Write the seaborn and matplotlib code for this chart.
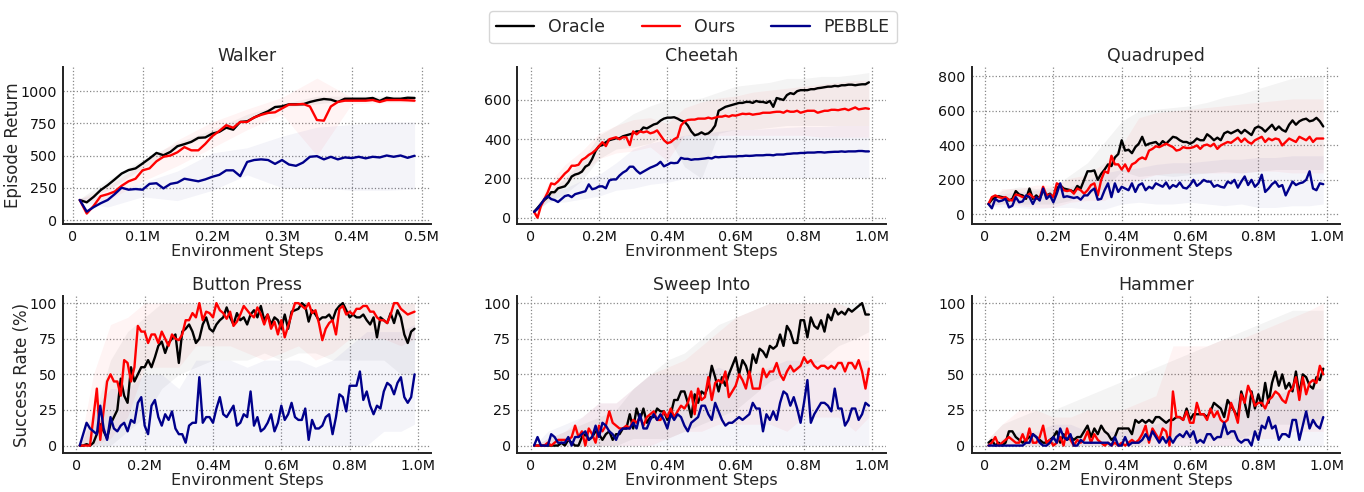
import matplotlib
matplotlib.use("Agg")
import matplotlib.pyplot as plt
import seaborn as sns
import numpy as np
from matplotlib.ticker import FuncFormatter, MultipleLocator, FixedLocator

# ---------------- data ----------------
STEPS_HALF = [10000 * i for i in range(1, 50)]
STEPS_FULL = [10000 * i for i in range(1, 100)]
BAND_X_HALF = [10000, 50000, 100000, 150000, 200000, 250000, 300000, 350000, 400000, 450000, 490000]
BAND_X_FULL = [10000, 50000, 100000, 150000, 200000, 250000, 300000, 350000, 400000, 450000, 500000,
               550000, 600000, 650000, 700000, 750000, 800000, 850000, 900000, 950000, 990000]

methods = ["Oracle", "Ours", "PEBBLE"]

# Walker
walker_oracle = [155, 137, 180, 232, 270, 314, 360, 387, 400, 438,
                 477, 520, 502, 528, 572, 588, 606, 637, 640, 670,
                 683, 716, 700, 760, 765, 794, 820, 843, 876, 881,
                 897, 897, 897, 915, 928, 938, 933, 915, 940, 940,
                 940, 940, 946, 923, 948, 940, 940, 948, 946]
walker_ours = [155, 50, 110, 185, 200, 220, 265, 300, 320, 385,
               400, 455, 490, 500, 525, 565, 540, 540, 590, 650,
               690, 735, 715, 760, 760, 795, 815, 830, 835, 865,
               895, 895, 900, 880, 775, 770, 880, 915, 925, 925,
               925, 925, 930, 915, 930, 930, 930, 928, 925]
walker_pebble = [155, 65, 100, 130, 155, 200, 250, 235, 240, 235,
                 280, 285, 245, 280, 290, 320, 310, 300, 315, 335,
                 350, 385, 385, 340, 450, 465, 470, 465, 435, 465,
                 430, 420, 445, 490, 495, 470, 490, 470, 485, 480,
                 490, 478, 490, 485, 500, 490, 500, 482, 498]
walker_oracle_lo = [150, 230, 400, 560, 660, 780, 870, 900, 930, 930, 935]
walker_oracle_hi = [165, 310, 470, 600, 700, 820, 900, 960, 960, 960, 960]
walker_ours_lo = [150, 150, 300, 420, 560, 700, 820, 500, 900, 910, 910]
walker_ours_hi = [165, 260, 440, 620, 760, 860, 950, 1100, 950, 950, 945]
walker_pebble_lo = [140, 100, 180, 150, 230, 350, 250, 250, 230, 230, 240]
walker_pebble_hi = [170, 200, 290, 380, 520, 560, 650, 720, 740, 760, 760]

# Cheetah
cheetah_oracle = [30, 50, 70, 90, 105, 130, 130, 150, 155, 160,
                  180, 210, 220, 225, 235, 260, 270, 300, 340, 365,
                  370, 385, 395, 400, 405, 405, 415, 420, 425, 430,
                  440, 440, 460, 455, 465, 475, 480, 495, 505, 510,
                  510, 512, 505, 495, 490, 470, 440, 420, 425, 435,
                  425, 430, 445, 470, 545, 555, 565, 570, 575, 580,
                  585, 585, 590, 590, 585, 595, 590, 590, 585, 595,
                  565, 610, 605, 600, 625, 635, 630, 645, 650, 650,
                  650, 655, 655, 660, 662, 665, 668, 668, 672, 670,
                  675, 675, 678, 678, 675, 678, 680, 680, 690]
cheetah_ours = [30, 0, 60, 95, 130, 175, 170, 185, 205, 225,
                240, 265, 265, 270, 295, 305, 320, 330, 345, 365,
                385, 365, 400, 405, 410, 400, 410, 410, 370, 440,
                425, 440, 435, 440, 430, 435, 445, 420, 395, 380,
                385, 400, 410, 470, 490, 498, 500, 500, 505, 505,
                505, 510, 505, 510, 515, 515, 520, 515, 522, 520,
                525, 530, 528, 530, 525, 528, 530, 535, 535, 535,
                538, 540, 540, 535, 545, 540, 540, 545, 535, 540,
                545, 545, 545, 535, 540, 545, 545, 550, 550, 548,
                552, 555, 548, 555, 562, 552, 555, 558, 555]
cheetah_pebble = [30, 45, 70, 95, 110, 95, 90, 80, 95, 110,
                  115, 105, 120, 125, 130, 135, 170, 145, 150, 160,
                  160, 150, 190, 195, 195, 215, 230, 240, 260, 260,
                  240, 225, 235, 245, 255, 262, 270, 285, 262, 270,
                  280, 278, 280, 305, 300, 300, 295, 298, 298, 300,
                  302, 305, 302, 310, 308, 310, 310, 312, 312, 312,
                  314, 314, 316, 315, 316, 318, 318, 318, 320, 320,
                  318, 322, 322, 322, 325, 326, 328, 328, 330, 330,
                  332, 332, 332, 334, 334, 332, 334, 335, 336, 336,
                  338, 336, 338, 338, 338, 340, 340, 338, 338]
cheetah_oracle_lo = [25, 80, 120, 190, 300, 350, 360, 380, 420, 260, 200, 430, 450, 450, 460, 470, 470, 470, 470, 470, 470]
cheetah_oracle_hi = [35, 130, 200, 290, 420, 470, 530, 570, 600, 600, 610, 640, 670, 680, 690, 710, 710, 720, 720, 730, 740]
cheetah_ours_lo = [25, 90, 170, 230, 300, 330, 340, 360, 290, 420, 420, 420, 420, 420, 420, 420, 420, 410, 410, 410, 410]
cheetah_ours_hi = [35, 170, 270, 340, 430, 470, 500, 510, 480, 560, 590, 610, 620, 640, 650, 660, 670, 680, 690, 700, 700]
cheetah_pebble_lo = [25, 80, 80, 95, 110, 140, 150, 170, 180, 200, 200, 205, 205, 205, 205, 205, 205, 205, 205, 205, 205]
cheetah_pebble_hi = [35, 130, 150, 190, 220, 280, 350, 380, 400, 420, 430, 440, 450, 450, 455, 460, 465, 465, 470, 470, 470]

# Quadruped
quad_oracle = [60, 85, 100, 105, 100, 95, 80, 90, 135, 115,
               110, 90, 150, 90, 110, 90, 140, 110, 120, 100,
               150, 170, 150, 145, 140, 130, 165, 150, 200, 250,
               250, 255, 200, 235, 260, 290, 280, 330, 350, 430,
               370, 375, 355, 390, 410, 450, 400, 410, 415, 420,
               400, 425, 410, 430, 450, 445, 430, 420, 420, 410,
               420, 440, 430, 430, 465, 450, 430, 445, 430, 470,
               480, 470, 480, 490, 470, 490, 475, 460, 500, 510,
               500, 480, 500, 520, 490, 510, 490, 480, 520, 545,
               520, 540, 550, 555, 540, 545, 560, 540, 510]
quad_ours = [60, 100, 110, 100, 95, 100, 85, 80, 115, 110,
             100, 100, 120, 100, 90, 95, 160, 110, 115, 100,
             180, 170, 140, 135, 140, 120, 150, 140, 120, 140,
             170, 180, 110, 200, 250, 240, 340, 290, 290, 260,
             290, 250, 290, 300, 320, 330, 320, 370, 380, 395,
             390, 400, 410, 400, 390, 370, 375, 390, 385, 385,
             390, 400, 380, 400, 405, 395, 410, 380, 400, 410,
             420, 415, 430, 445, 420, 440, 420, 410, 430, 440,
             450, 420, 440, 430, 440, 435, 400, 420, 440, 430,
             420, 450, 440, 430, 450, 420, 440, 440, 440]
quad_pebble = [60, 35, 90, 75, 80, 90, 40, 50, 100, 70,
               75, 110, 100, 60, 100, 80, 150, 90, 110, 70,
               120, 180, 100, 105, 100, 95, 100, 85, 110, 110,
               135, 150, 85, 90, 140, 180, 100, 180, 130, 160,
               150, 140, 180, 130, 170, 180, 140, 160, 150, 180,
               170, 160, 185, 150, 170, 160, 185, 155, 150, 170,
               200, 165, 180, 200, 190, 190, 160, 170, 160, 155,
               190, 180, 200, 155, 190, 220, 170, 200, 160, 180,
               230, 130, 150, 175, 190, 160, 170, 110, 150, 190,
               170, 180, 185, 200, 250, 150, 140, 180, 175]
quad_oracle_lo = [50, 60, 60, 60, 60, 80, 120, 150, 250, 220, 230, 220, 230, 240, 250, 240, 250, 260, 260, 260, 260]
quad_oracle_hi = [70, 140, 160, 150, 160, 230, 300, 420, 540, 600, 610, 620, 630, 650, 680, 700, 730, 760, 790, 800, 800]
quad_ours_lo = [50, 60, 50, 40, 40, 70, 80, 80, 150, 200, 230, 240, 240, 240, 240, 240, 250, 250, 240, 240, 240]
quad_ours_hi = [70, 150, 150, 170, 170, 210, 230, 300, 400, 560, 590, 600, 610, 620, 630, 640, 650, 660, 670, 670, 670]
quad_pebble_lo = [50, 40, 40, 30, 40, 40, 30, 30, 60, 70, 60, 60, 70, 60, 50, 60, 40, 40, 50, 50, 60]
quad_pebble_hi = [70, 120, 130, 140, 150, 160, 200, 240, 260, 270, 290, 300, 300, 310, 320, 320, 330, 330, 340, 340, 340]

# Button Press
button_oracle = [0, 0, 1, 0, 2, 8, 15, 10, 5, 15,
                 20, 25, 47, 35, 30, 55, 45, 50, 55, 55,
                 60, 55, 62, 70, 73, 65, 72, 75, 78, 58,
                 80, 82, 85, 80, 72, 75, 85, 90, 82, 80,
                 85, 88, 90, 97, 90, 85, 93, 88, 90, 85,
                 92, 95, 90, 98, 88, 92, 85, 90, 88, 82,
                 92, 82, 94, 95, 96, 100, 98, 87, 95, 92,
                 88, 90, 90, 92, 88, 95, 98, 100, 95, 90,
                 92, 90, 90, 92, 88, 85, 90, 76, 90, 88,
                 86, 93, 86, 95, 90, 78, 72, 80, 82]
button_ours = [0, 0, 0, 0, 20, 40, 4, 25, 45, 50,
               45, 45, 35, 60, 58, 45, 55, 84, 80, 80,
               72, 78, 78, 72, 80, 75, 70, 78, 75, 74,
               78, 88, 88, 93, 90, 100, 88, 94, 93, 90,
               100, 95, 93, 89, 94, 84, 87, 92, 98, 95,
               92, 90, 97, 92, 85, 92, 82, 87, 78, 88,
               76, 84, 92, 100, 100, 98, 96, 100, 93, 95,
               86, 74, 82, 86, 88, 78, 96, 98, 92, 94,
               92, 96, 96, 98, 98, 94, 94, 90, 88, 88,
               86, 92, 100, 100, 96, 94, 92, 93, 94]
button_pebble = [0, 8, 16, 12, 10, 8, 28, 12, 4, 20,
                 12, 10, 14, 16, 10, 18, 16, 30, 34, 14,
                 8, 28, 32, 20, 14, 22, 18, 24, 12, 8,
                 8, 2, 14, 16, 16, 48, 16, 20, 20, 16,
                 26, 34, 22, 20, 24, 28, 14, 16, 22, 20,
                 38, 14, 20, 10, 12, 16, 22, 10, 16, 28,
                 18, 22, 30, 20, 18, 18, 26, 4, 18, 12,
                 12, 14, 20, 22, 8, 20, 36, 34, 24, 42,
                 42, 42, 52, 32, 38, 28, 22, 28, 26, 38,
                 44, 42, 36, 44, 48, 34, 30, 34, 50]
button_oracle_lo = [0, 0, 0, 10, 20, 40, 50, 55, 60, 60, 60, 65, 60, 65, 65, 60, 60, 60, 60, 50, 50]
button_oracle_hi = [0, 20, 60, 80, 90, 100, 100, 100, 100, 100, 100, 100, 100, 100, 100, 100, 100, 100, 100, 100, 100]
button_ours_lo = [0, 0, 5, 20, 55, 55, 55, 70, 70, 70, 65, 60, 65, 70, 60, 65, 75, 75, 75, 70, 75]
button_ours_hi = [0, 50, 85, 90, 100, 100, 100, 100, 100, 100, 100, 100, 100, 100, 100, 100, 100, 100, 100, 100, 100]
button_pebble_lo = [0, 0, 0, 0, 0, 0, 0, 0, 0, 0, 0, 0, 0, 0, 0, 0, 0, 0, 10, 10, 15]
button_pebble_hi = [0, 25, 40, 40, 50, 50, 40, 60, 60, 60, 55, 60, 60, 60, 55, 60, 70, 80, 80, 80, 85]

# Sweep Into
sweep_oracle = [0, 0, 0, 0, 0, 0, 0, 0, 2, 0,
                4, 2, 0, 0, 6, 8, 4, 6, 10, 8,
                4, 8, 10, 4, 8, 8, 12, 12, 22, 12,
                26, 18, 26, 16, 20, 20, 26, 24, 24, 18,
                22, 32, 32, 38, 38, 30, 20, 36, 30, 38,
                36, 42, 56, 48, 38, 48, 42, 50, 56, 62,
                50, 60, 56, 48, 64, 58, 68, 66, 62, 70,
                68, 70, 78, 70, 84, 80, 72, 72, 88, 88,
                76, 90, 84, 82, 88, 80, 92, 88, 96, 92,
                94, 92, 96, 94, 96, 98, 100, 92, 92]
sweep_ours = [0, 0, 0, 0, 2, 0, 2, 4, 4, 4,
              4, 6, 14, 6, 10, 0, 12, 8, 2, 14,
              10, 14, 24, 16, 14, 12, 12, 14, 12, 18,
              16, 20, 14, 20, 22, 24, 18, 18, 24, 20,
              26, 20, 24, 28, 26, 30, 38, 22, 40, 32,
              34, 48, 32, 44, 46, 44, 52, 34, 38, 42,
              50, 46, 40, 52, 40, 40, 40, 54, 48, 52,
              52, 58, 50, 46, 52, 56, 52, 54, 56, 62,
              58, 60, 56, 54, 56, 56, 54, 56, 54, 58,
              58, 52, 58, 58, 54, 60, 52, 40, 54]
sweep_pebble = [0, 6, 0, 0, 0, 8, 6, 2, 2, 2,
                6, 0, 6, 6, 8, 10, 4, 6, 14, 6,
                16, 14, 10, 8, 4, 10, 12, 12, 12, 16,
                12, 22, 12, 12, 18, 22, 18, 22, 18, 12,
                22, 18, 22, 20, 14, 10, 16, 18, 20, 28,
                28, 22, 18, 30, 24, 18, 14, 16, 16, 18,
                20, 18, 20, 22, 30, 26, 26, 10, 22, 18,
                24, 18, 30, 38, 36, 28, 34, 26, 16, 30,
                46, 16, 22, 26, 30, 30, 28, 24, 40, 26,
                26, 14, 18, 26, 26, 18, 22, 30, 28]
sweep_oracle_lo = [0, 0, 0, 0, 0, 0, 5, 5, 5, 10, 15, 20, 25, 35, 45, 50, 55, 60, 70, 75, 80]
sweep_oracle_hi = [0, 5, 10, 15, 20, 25, 40, 50, 60, 65, 75, 85, 90, 95, 100, 100, 100, 100, 100, 100, 100]
sweep_ours_lo = [0, 0, 0, 0, 0, 0, 0, 0, 5, 10, 10, 15, 15, 15, 15, 10, 20, 20, 20, 10, 20]
sweep_ours_hi = [0, 5, 10, 20, 30, 30, 40, 50, 55, 60, 70, 80, 90, 95, 100, 100, 100, 100, 100, 95, 95]
sweep_pebble_lo = [0, 0, 0, 0, 0, 0, 0, 0, 0, 0, 0, 0, 0, 0, 0, 0, 0, 0, 0, 0, 0]
sweep_pebble_hi = [0, 10, 15, 20, 30, 30, 40, 50, 50, 50, 50, 55, 50, 50, 55, 60, 60, 60, 60, 60, 60]

# Hammer
hammer_oracle = [2, 4, 0, 2, 0, 2, 10, 10, 6, 4,
                 2, 4, 6, 8, 6, 4, 2, 2, 4, 6,
                 10, 2, 8, 4, 6, 4, 6, 6, 10, 14,
                 6, 12, 8, 14, 10, 8, 4, 6, 12, 12,
                 12, 12, 8, 18, 16, 18, 16, 18, 16, 20,
                 20, 18, 16, 18, 18, 20, 20, 18, 26, 18,
                 22, 22, 22, 22, 20, 24, 30, 28, 26, 20,
                 32, 28, 24, 20, 38, 30, 20, 38, 26, 36,
                 28, 44, 30, 44, 52, 42, 50, 40, 44, 38,
                 52, 36, 50, 48, 42, 40, 48, 46, 54]
hammer_ours = [0, 2, 6, 0, 2, 4, 6, 4, 2, 2,
               8, 2, 12, 2, 2, 6, 14, 2, 4, 0,
               2, 6, 0, 12, 4, 0, 4, 2, 4, 10,
               2, 8, 4, 2, 0, 2, 0, 2, 0, 2,
               0, 2, 4, 2, 4, 8, 14, 2, 12, 8,
               4, 12, 10, 0, 38, 20, 20, 18, 24, 16,
               16, 30, 22, 22, 18, 26, 20, 24, 18, 16,
               18, 30, 24, 16, 36, 30, 42, 36, 28, 30,
               30, 26, 32, 34, 38, 36, 32, 30, 38, 40,
               48, 32, 48, 36, 44, 46, 44, 56, 50]
hammer_pebble = [0, 0, 0, 0, 0, 0, 0, 0, 0, 0,
                 0, 2, 2, 8, 6, 2, 0, 0, 2, 6,
                 2, 12, 6, 4, 8, 0, 0, 4, 2, 2,
                 2, 2, 2, 2, 2, 2, 0, 6, 0, 0,
                 6, 0, 2, 2, 2, 4, 8, 4, 10, 6,
                 2, 6, 2, 6, 2, 6, 8, 6, 10, 6,
                 10, 2, 4, 2, 8, 8, 4, 6, 6, 16,
                 8, 10, 10, 4, 2, 4, 4, 0, 10, 4,
                 14, 12, 20, 12, 14, 4, 8, 8, 6, 18,
                 18, 4, 14, 24, 12, 18, 14, 12, 20]
hammer_oracle_lo = [0, 0, 0, 0, 0, 0, 0, 0, 0, 0, 5, 5, 5, 5, 5, 5, 10, 15, 15, 15, 20]
hammer_oracle_hi = [5, 15, 20, 25, 25, 30, 35, 40, 45, 50, 55, 60, 65, 70, 75, 80, 85, 90, 95, 95, 95]
hammer_ours_lo = [0, 0, 0, 0, 0, 0, 0, 0, 0, 0, 0, 0, 0, 0, 0, 0, 5, 5, 10, 10, 10]
hammer_ours_hi = [5, 15, 25, 25, 20, 20, 25, 25, 25, 30, 35, 70, 70, 70, 75, 75, 80, 85, 90, 95, 100]
hammer_pebble_lo = [0, 0, 0, 0, 0, 0, 0, 0, 0, 0, 0, 0, 0, 0, 0, 0, 0, 0, 0, 0, 0]
hammer_pebble_hi = [0, 5, 10, 10, 15, 15, 10, 10, 10, 15, 15, 20, 20, 25, 30, 35, 35, 35, 40, 40, 40]

panels = [
    ("Walker", STEPS_HALF, BAND_X_HALF,
     [walker_oracle, walker_ours, walker_pebble],
     [(walker_oracle_lo, walker_oracle_hi), (walker_ours_lo, walker_ours_hi), (walker_pebble_lo, walker_pebble_hi)],
     [0, 250, 500, 750, 1000], (-31, 1186), 100000, "Episode Return"),
    ("Cheetah", STEPS_FULL, BAND_X_FULL,
     [cheetah_oracle, cheetah_ours, cheetah_pebble],
     [(cheetah_oracle_lo, cheetah_oracle_hi), (cheetah_ours_lo, cheetah_ours_hi), (cheetah_pebble_lo, cheetah_pebble_hi)],
     [0, 200, 400, 600], (-32, 768), 200000, None),
    ("Quadruped", STEPS_FULL, BAND_X_FULL,
     [quad_oracle, quad_ours, quad_pebble],
     [(quad_oracle_lo, quad_oracle_hi), (quad_ours_lo, quad_ours_hi), (quad_pebble_lo, quad_pebble_hi)],
     [0, 200, 400, 600, 800], (-56, 855), 200000, None),
    ("Button Press", STEPS_FULL, BAND_X_FULL,
     [button_oracle, button_ours, button_pebble],
     [(button_oracle_lo, button_oracle_hi), (button_ours_lo, button_ours_hi), (button_pebble_lo, button_pebble_hi)],
     [0, 25, 50, 75, 100], (-5.2, 105), 200000, "Success Rate (%)"),
    ("Sweep Into", STEPS_FULL, BAND_X_FULL,
     [sweep_oracle, sweep_ours, sweep_pebble],
     [(sweep_oracle_lo, sweep_oracle_hi), (sweep_ours_lo, sweep_ours_hi), (sweep_pebble_lo, sweep_pebble_hi)],
     [0, 25, 50, 75, 100], (-5.2, 105), 200000, None),
    ("Hammer", STEPS_FULL, BAND_X_FULL,
     [hammer_oracle, hammer_ours, hammer_pebble],
     [(hammer_oracle_lo, hammer_oracle_hi), (hammer_ours_lo, hammer_ours_hi), (hammer_pebble_lo, hammer_pebble_hi)],
     [0, 25, 50, 75, 100], (-5.2, 105), 200000, None),
]

colors = ["black", "red", "#00008B"]

# ---------------- plot ----------------
sns.set_theme(style="white")
plt.rcParams["font.family"] = ["DejaVu Sans"]

fig, axes = plt.subplots(2, 3, figsize=(13.64, 4.92), dpi=100)
fig.subplots_adjust(left=0.0462, right=0.9824, top=0.8638, bottom=0.0793,
                    wspace=0.2337, hspace=0.4586)


def fmt(v, pos):
    if abs(v) < 1:
        return "0"
    return f"{v / 1e6:.1f}M"


for ax, (title, xs, bx, series, bands, yticks, ylim, xstep, ylabel) in zip(axes.flat, panels):
    for name, ys, (lo, hi), c in zip(methods, series, bands, colors):
        ax.fill_between(bx, lo, hi, color=c, alpha=0.045, linewidth=0)
        sns.lineplot(x=xs, y=ys, ax=ax, color=c, linewidth=1.7, label=name, legend=False)
    ax.set_title(title, fontsize=12.5, pad=4)
    ax.set_xlabel("Environment Steps", fontsize=11.5, labelpad=0)
    ax.set_ylabel(ylabel if ylabel else "", fontsize=12, labelpad=-1)
    ax.xaxis.set_major_locator(MultipleLocator(xstep))
    ax.xaxis.set_major_formatter(FuncFormatter(fmt))
    ax.yaxis.set_major_locator(FixedLocator(yticks))
    ax.set_ylim(*ylim)
    ax.margins(x=0.05)
    ax.grid(True, linestyle=":", color="#888888", linewidth=0.9)
    ax.tick_params(length=2.5, width=1, color="#222222", labelsize=10.3, pad=2, labelcolor="#111111")
    for s in ["top", "right"]:
        ax.spines[s].set_visible(False)
    for s in ["left", "bottom"]:
        ax.spines[s].set_color("#222222")
        ax.spines[s].set_linewidth(1.4)

handles = axes.flat[0].get_lines()[:3]
fig.legend(handles, methods, loc="upper center", bbox_to_anchor=(0.508, 0.995), ncol=3,
           fontsize=12.5, frameon=True, handlelength=2.2, columnspacing=2.1,
           edgecolor="#cccccc", fancybox=True)

fig.savefig("out.png", dpi=100)
